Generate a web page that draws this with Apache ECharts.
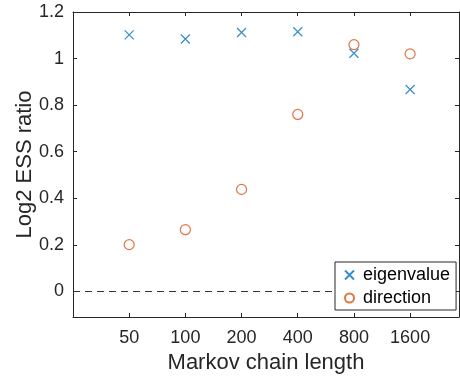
<!DOCTYPE html>
<html>
<head>
<meta charset="utf-8">
<script src="https://cdn.jsdelivr.net/npm/echarts@6/dist/echarts.min.js"></script>
<style>
  html, body { margin: 0; padding: 0; background: #fff; }
  #chart { width: 460px; height: 379px; }
</style>
</head>
<body>
<div id="chart"></div>
<script>
// Markov chain lengths (placed at positions 1..6 on the x axis)
const chainLengths = ['50', '100', '200', '400', '800', '1600'];
// Log2 ESS ratio for each chain length
const eigenvalueRatio = [1.102, 1.084, 1.112, 1.115, 1.023, 0.867];
const directionRatio = [0.201, 0.265, 0.438, 0.760, 1.060, 1.020];
// y tick values
const yTicks = [0, 0.2, 0.4, 0.6, 0.8, 1, 1.2];

const FONT = "'Liberation Sans', Helvetica, Arial, sans-serif";
const AXIS_COLOR = '#262626';
const X_MIN = 0, X_MAX = 6.87, Y_MIN = -0.11, Y_MAX = 1.2;
const xPositions = chainLengths.map((_, i) => i + 1);

const toPoints = arr => arr.map((v, i) => [xPositions[i], v]);

const boxAxis = (extra) => Object.assign({
  type: 'value',
  axisLine: { show: true, onZero: false, lineStyle: { color: AXIS_COLOR, width: 1 } },
  axisTick: { show: true, inside: true, length: 4, lineStyle: { color: AXIS_COLOR, width: 1 } },
  splitLine: { show: false },
}, extra);

const chart = echarts.init(document.getElementById('chart'), null, { renderer: 'canvas' });
chart.setOption({
  animation: false,
  backgroundColor: '#fff',
  textStyle: { fontFamily: FONT },
  grid: { left: 73, right: 1, top: 12, bottom: 60, containLabel: false },
  xAxis: [
    boxAxis({
      position: 'bottom', min: X_MIN, max: X_MAX,
      axisTick: { show: true, inside: true, length: 4, customValues: xPositions, lineStyle: { color: AXIS_COLOR } },
      axisLabel: {
        show: true, customValues: xPositions, margin: 12,
        color: AXIS_COLOR, fontSize: 18, fontFamily: FONT,
        formatter: v => chainLengths[Math.round(v) - 1] || ''
      },
      name: 'Markov chain length', nameLocation: 'middle', nameGap: 35,
      nameMoveOverlap: false,
      nameTextStyle: { color: AXIS_COLOR, fontSize: 22, fontFamily: FONT }
    }),
    boxAxis({
      position: 'top', min: X_MIN, max: X_MAX,
      axisTick: { show: true, inside: true, length: 4, customValues: xPositions, lineStyle: { color: AXIS_COLOR } },
      axisLabel: { show: false }
    })
  ],
  yAxis: [
    boxAxis({
      position: 'left', min: Y_MIN, max: Y_MAX,
      axisTick: { show: true, inside: true, length: 4, customValues: yTicks, lineStyle: { color: AXIS_COLOR } },
      axisLabel: {
        show: true, customValues: yTicks, margin: 9,
        color: AXIS_COLOR, fontSize: 18, fontFamily: FONT,
        formatter: v => String(v)
      },
      name: 'Log2 ESS ratio', nameLocation: 'middle', nameGap: 37,
      nameMoveOverlap: false,
      nameTextStyle: { color: AXIS_COLOR, fontSize: 22, fontFamily: FONT }
    }),
    boxAxis({
      position: 'right', min: Y_MIN, max: Y_MAX,
      axisTick: { show: true, inside: true, length: 4, customValues: yTicks, lineStyle: { color: AXIS_COLOR } },
      axisLabel: { show: false }
    })
  ],
  legend: {
    orient: 'vertical',
    left: 335, top: 262,
    padding: [3, 6, 2, 9],
    itemGap: 3,
    itemWidth: 9, itemHeight: 9,
    backgroundColor: '#fff',
    borderColor: AXIS_COLOR, borderWidth: 1,
    textStyle: { color: '#000', fontSize: 18, fontFamily: FONT, lineHeight: 20, padding: [0, 0, 0, 4] },
    data: ['eigenvalue', 'direction']
  },
  series: [
    {
      name: 'eigenvalue',
      type: 'scatter',
      xAxisIndex: 0, yAxisIndex: 0,
      symbol: 'path://M0,0L10,10M10,0L0,10',
      symbolSize: 9,
      itemStyle: { color: 'rgba(0,0,0,0)', borderColor: '#0072BD', borderWidth: 1.2 },
      data: toPoints(eigenvalueRatio),
      z: 3,
      markLine: {
        silent: true,
        symbol: 'none',
        label: { show: false },
        lineStyle: { color: '#333', type: [7, 5], width: 1 },
        data: [{ yAxis: 0 }],
        z: 1
      }
    },
    {
      name: 'direction',
      type: 'scatter',
      xAxisIndex: 0, yAxisIndex: 0,
      symbol: 'circle',
      symbolSize: 10,
      itemStyle: { color: 'rgba(0,0,0,0)', borderColor: '#D95319', borderWidth: 1.2 },
      data: toPoints(directionRatio),
      z: 3
    }
  ]
});
</script>
</body>
</html>
